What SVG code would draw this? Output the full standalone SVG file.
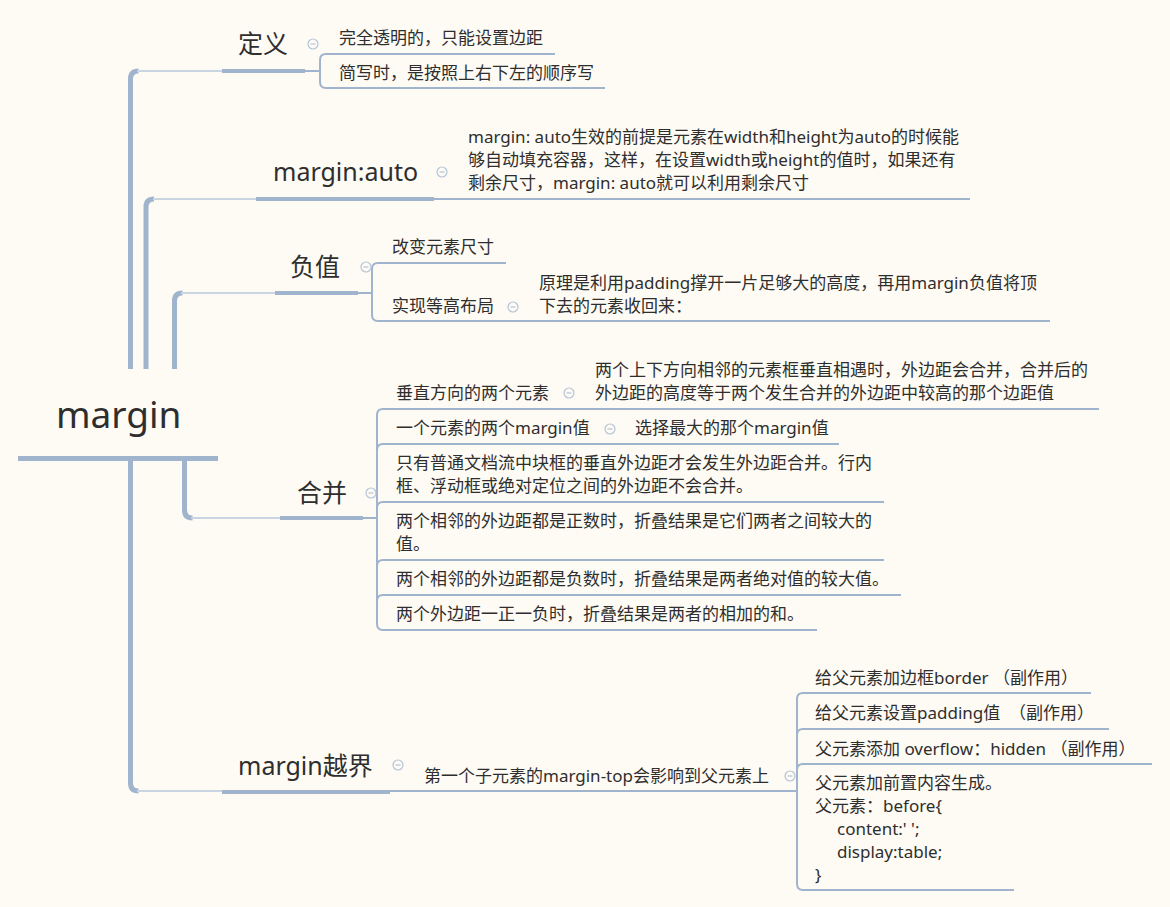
<svg xmlns="http://www.w3.org/2000/svg" width="1170" height="907" viewBox="0 0 1170 907">
<style>
text{font-family:"Noto Sans","Noto Sans CJK SC",sans-serif;fill:#2e2e2e;white-space:pre}
.t0{font-size:37px}
.t1{font-size:25px}
.t2{font-size:17px}
.trunk{fill:none;stroke:#a0b4cd;stroke-width:5}
.soft{fill:none;stroke:#c9d5e3;stroke-width:2}
.ul{fill:none;stroke:#a0b4cd;stroke-width:4}
.ln{fill:none;stroke:#a0b4cd;stroke-width:2}
.ic circle{fill:#fefbf4;stroke:#b4c4d8;stroke-width:1.2}
.ic path{stroke:#b4c4d8;stroke-width:1.2}
</style>
<defs>
<g id="minus" class="ic"><circle cx="0" cy="0" r="5"/><path d="M-2.5,0H2.5"/></g>
</defs>
<rect width="1170" height="907" fill="#fefbf4"/>

<g id="connectors">
  <path class="trunk" d="M130.5,369V79Q130.5,71 138.5,71"/>
  <path class="soft" d="M137,71H222"/>
  <path class="trunk" d="M146,369V207Q146,199 154,199"/>
  <path class="soft" d="M153,199H256"/>
  <path class="trunk" d="M174.5,369V301Q174.5,293 182.5,293"/>
  <path class="soft" d="M181,293H275"/>
  <path class="trunk" d="M184.5,458V510Q184.5,518 192.5,518"/>
  <path class="soft" d="M191,518H280"/>
  <path class="trunk" d="M130.5,458V783Q130.5,791 138.5,791"/>
  <path class="soft" d="M137,791H222"/>
  <path class="ln" d="M305,71H320"/>
  <path class="ln" d="M326,54Q320,54 320,60V82Q320,88 326,88"/>
  <path class="ln" d="M358,293H372"/>
  <path class="ln" d="M378,263Q372,263 372,269V315Q372,321 378,321"/>
  <path class="ln" d="M363,518H377"/>
  <path class="ln" d="M383,409Q377,409 377,415V624Q377,630 383,630"/>
  <path class="ln" d="M383,444Q377,444 377,450"/>
  <path class="ln" d="M383,502Q377,502 377,508"/>
  <path class="ln" d="M383,560Q377,560 377,566"/>
  <path class="ln" d="M383,595Q377,595 377,601"/>
  <path class="ln" d="M803,693Q797,693 797,699V884Q797,890 803,890"/>
  <path class="ln" d="M803,729Q797,729 797,735"/>
  <path class="ln" d="M803,764Q797,764 797,770"/>
</g>

<g id="root">
  <text class="t0" x="56" y="428">margin</text>
  <path d="M18,458.5H218" stroke="#a0b4cd" stroke-width="5"/>
</g>

<g id="n-def">
  <text class="t1" x="238" y="53">定义</text>
  <path class="ul" d="M222,71H305"/>
  <use href="#minus" x="313" y="44"/>
</g>
<g id="n-def-1">
  <text class="t2" x="339" y="44">完全透明的，只能设置边距</text>
  <path class="ln" d="M325,54H555"/>
</g>
<g id="n-def-2">
  <text class="t2" x="339" y="79">简写时，是按照上右下左的顺序写</text>
  <path class="ln" d="M325,88H605"/>
</g>

<g id="n-auto">
  <text class="t1" x="273" y="181">margin:auto</text>
  <path class="ul" d="M256,199H434"/>
  <use href="#minus" x="442" y="172"/>
</g>
<g id="n-auto-1">
  <text class="t2" x="468" y="143">margin: auto生效的前提是元素在width和height为auto的时候能</text>
  <text class="t2" x="468" y="166">够自动填充容器，这样，在设置width或height的值时，如果还有</text>
  <text class="t2" x="468" y="189">剩余尺寸，margin: auto就可以利用剩余尺寸</text>
  <path class="ln" d="M434,199H970"/>
</g>

<g id="n-neg">
  <text class="t1" x="290" y="276">负值</text>
  <path class="ul" d="M275,293H358"/>
  <use href="#minus" x="366" y="267"/>
</g>
<g id="n-neg-1">
  <text class="t2" x="392" y="253">改变元素尺寸</text>
  <path class="ln" d="M377,263H506"/>
</g>
<g id="n-neg-2">
  <text class="t2" x="392" y="312">实现等高布局</text>
  <path class="ln" d="M377,321H522"/>
  <use href="#minus" x="513" y="307"/>
</g>
<g id="n-neg-2-1">
  <text class="t2" x="539" y="289">原理是利用padding撑开一片足够大的高度，再用margin负值将顶</text>
  <text class="t2" x="539" y="312">下去的元素收回来：</text>
  <path class="ln" d="M522,321H1050"/>
</g>

<g id="n-merge">
  <text class="t1" x="297" y="502">合并</text>
  <path class="ul" d="M280,518H363"/>
  <use href="#minus" x="371" y="493"/>
</g>
<g id="n-merge-1">
  <text class="t2" x="396" y="399">垂直方向的两个元素</text>
  <path class="ln" d="M382,409H580"/>
  <use href="#minus" x="569" y="393"/>
</g>
<g id="n-merge-1-1">
  <text class="t2" x="595" y="376">两个上下方向相邻的元素框垂直相遇时，外边距会合并，合并后的</text>
  <text class="t2" x="595" y="399">外边距的高度等于两个发生合并的外边距中较高的那个边距值</text>
  <path class="ln" d="M580,409H1099"/>
</g>
<g id="n-merge-2">
  <text class="t2" x="396" y="434">一个元素的两个margin值</text>
  <path class="ln" d="M382,444H620"/>
  <use href="#minus" x="610" y="429"/>
</g>
<g id="n-merge-2-1">
  <text class="t2" x="635" y="434">选择最大的那个margin值</text>
  <path class="ln" d="M620,444H839"/>
</g>
<g id="n-merge-3">
  <text class="t2" x="396" y="469">只有普通文档流中块框的垂直外边距才会发生外边距合并。行内</text>
  <text class="t2" x="396" y="492">框、浮动框或绝对定位之间的外边距不会合并。</text>
  <path class="ln" d="M382,502H884"/>
</g>
<g id="n-merge-4">
  <text class="t2" x="396" y="527">两个相邻的外边距都是正数时，折叠结果是它们两者之间较大的</text>
  <text class="t2" x="396" y="550">值。</text>
  <path class="ln" d="M382,560H884"/>
</g>
<g id="n-merge-5">
  <text class="t2" x="396" y="585">两个相邻的外边距都是负数时，折叠结果是两者绝对值的较大值。</text>
  <path class="ln" d="M382,595H901"/>
</g>
<g id="n-merge-6">
  <text class="t2" x="396" y="620">两个外边距一正一负时，折叠结果是两者的相加的和。</text>
  <path class="ln" d="M382,630H817"/>
</g>

<g id="n-over">
  <text class="t1" x="238" y="775">margin越界</text>
  <path class="ul" d="M222,792H390"/>
  <use href="#minus" x="398" y="765"/>
</g>
<g id="n-over-1">
  <text class="t2" x="424" y="782">第一个子元素的margin-top会影响到父元素上</text>
  <path class="ln" d="M390,791H797"/>
  <use href="#minus" x="790" y="776"/>
</g>
<g id="n-over-1-1">
  <text class="t2" x="815" y="684">给父元素加边框border （副作用）</text>
  <path class="ln" d="M802,693H1091"/>
</g>
<g id="n-over-1-2">
  <text class="t2" x="815" y="719">给父元素设置padding值  （副作用）</text>
  <path class="ln" d="M802,729H1109"/>
</g>
<g id="n-over-1-3">
  <text class="t2" x="815" y="755">父元素添加 overflow：hidden （副作用）</text>
  <path class="ln" d="M802,764H1152"/>
</g>
<g id="n-over-1-4">
  <text class="t2" x="815" y="789">父元素加前置内容生成。</text>
  <text class="t2" x="815" y="812">父元素：before{</text>
  <text class="t2" x="837" y="835">content:' ';</text>
  <text class="t2" x="837" y="858">display:table;</text>
  <text class="t2" x="815" y="881">}</text>
  <path class="ln" d="M802,890H1014"/>
</g>
</svg>
